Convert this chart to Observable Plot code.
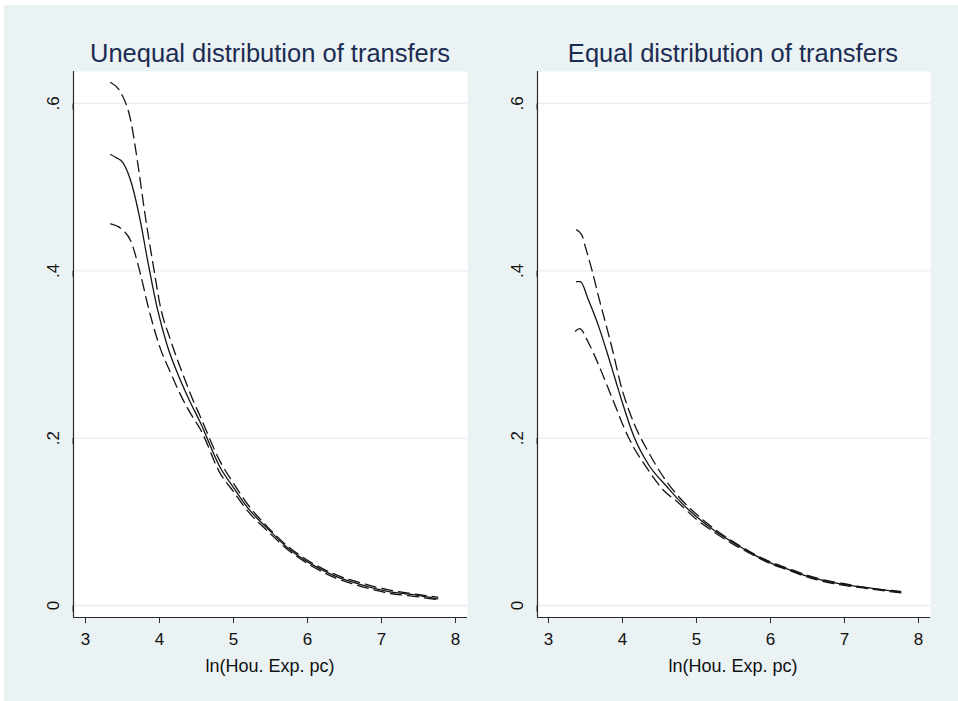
<!DOCTYPE html>
<html>
<head>
<meta charset="utf-8">
<script src="https://cdn.jsdelivr.net/npm/d3@7"></script>
<script src="https://cdn.jsdelivr.net/npm/@observablehq/plot@0.6"></script>
<style>
  html, body { margin: 0; padding: 0; background: #ffffff; }
  #page { position: relative; width: 958px; height: 701px; background: #ffffff; overflow: hidden;
          font-family: "Liberation Sans", Arial, Helvetica, sans-serif; }
  #bg { position: absolute; left: 4px; top: 5px; right: 0; bottom: 0; background: #eaf2f3; }
  .title { position: absolute; top: 41px; font-size: 25.5px; line-height: 1; color: #1c2c52; white-space: nowrap; transform: translateX(-50%); }
  .xlab { position: absolute; top: 657px; font-size: 18px; line-height: 1; color: #111; white-space: nowrap; transform: translateX(-50%); }
  .panel { position: absolute; top: 66px; }
</style>
</head>
<body>
<div id="page"><div id="bg"></div></div>
<script>
// ---- Text ----
const panelTitles = ["Unequal distribution of transfers", "Equal distribution of transfers"];
const xLabel = "ln(Hou. Exp. pc)";
const xTicks = [3, 4, 5, 6, 7, 8];
const xTickLabels = ["3", "4", "5", "6", "7", "8"];
const yTicks = [0, 0.2, 0.4, 0.6];
const yTickLabels = ["0", ".2", ".4", ".6"];

// ---- Unequal distribution: estimate and bands ----
const unequalEstX = [3.34, 3.42, 3.50, 3.61, 3.74, 3.84, 3.97, 4.10, 4.25, 4.40, 4.55, 4.82, 5.00, 5.19, 5.46, 5.73, 6.04, 6.35, 6.72, 7.08, 7.43, 7.76];
const unequalEst  = [0.539, 0.535, 0.530, 0.508, 0.460, 0.412, 0.355, 0.312, 0.276, 0.246, 0.219, 0.165, 0.141, 0.117, 0.092, 0.069, 0.050, 0.036, 0.025, 0.017, 0.013, 0.008];
const unequalUpX  = [3.34, 3.47, 3.61, 3.72, 3.81, 3.92, 4.01, 4.15, 4.30, 4.45, 4.55, 4.82, 5.00, 5.19, 5.46, 5.73, 6.04, 6.35, 6.72, 7.08, 7.43, 7.76];
const unequalUp   = [0.625, 0.614, 0.580, 0.520, 0.464, 0.404, 0.358, 0.317, 0.280, 0.246, 0.226, 0.172, 0.146, 0.121, 0.094, 0.071, 0.052, 0.038, 0.027, 0.019, 0.014, 0.010];
const unequalLoX  = [3.34, 3.50, 3.61, 3.74, 3.85, 4.00, 4.15, 4.30, 4.45, 4.55, 4.82, 5.00, 5.19, 5.46, 5.73, 6.04, 6.35, 6.72, 7.08, 7.43, 7.76];
const unequalLo   = [0.456, 0.449, 0.436, 0.397, 0.356, 0.310, 0.278, 0.249, 0.225, 0.211, 0.158, 0.136, 0.113, 0.089, 0.067, 0.048, 0.034, 0.023, 0.015, 0.011, 0.007];

// ---- Equal distribution: estimate and bands ----
const equalEstX = [3.38, 3.43, 3.54, 3.68, 3.80, 3.91, 4.00, 4.15, 4.34, 4.61, 4.74, 5.00, 5.25, 5.50, 5.75, 6.00, 6.25, 6.50, 6.75, 7.00, 7.25, 7.50, 7.76];
const equalEst  = [0.387, 0.387, 0.365, 0.333, 0.300, 0.268, 0.242, 0.203, 0.170, 0.141, 0.128, 0.106, 0.089, 0.075, 0.062, 0.051, 0.043, 0.035, 0.029, 0.025, 0.022, 0.019, 0.016];
const equalUpX  = [3.38, 3.45, 3.50, 3.59, 3.68, 3.80, 3.88, 3.97, 4.10, 4.22, 4.34, 4.55, 4.74, 5.00, 5.25, 5.50, 5.75, 6.00, 6.25, 6.50, 6.75, 7.00, 7.25, 7.50, 7.76];
const equalUp   = [0.449, 0.443, 0.428, 0.400, 0.368, 0.328, 0.300, 0.266, 0.230, 0.205, 0.185, 0.154, 0.132, 0.109, 0.091, 0.076, 0.063, 0.052, 0.044, 0.036, 0.030, 0.026, 0.022, 0.019, 0.017];
const equalLoX  = [3.365, 3.42, 3.54, 3.68, 3.80, 3.91, 4.00, 4.08, 4.34, 4.55, 4.74, 5.00, 5.25, 5.50, 5.75, 6.00, 6.25, 6.50, 6.75, 7.00, 7.25, 7.50, 7.76];
const equalLo   = [0.328, 0.331, 0.314, 0.287, 0.261, 0.237, 0.217, 0.201, 0.163, 0.138, 0.124, 0.103, 0.087, 0.073, 0.061, 0.050, 0.042, 0.034, 0.028, 0.024, 0.021, 0.018, 0.015];

const fontFamily = '"Liberation Sans", Arial, Helvetica, sans-serif';
const yDomain = [-0.01434, 0.6382];

function series(xs, ys) { return xs.map((x, i) => ({x, y: ys[i]})); }

function panel(cfg) {
  const lineOpts = {x: "x", y: "y", stroke: "#141414", strokeWidth: 1.3, curve: "monotone-x"};
  return Plot.plot({
    width: 479,
    height: 580,
    marginTop: 5,
    marginBottom: 29,
    marginLeft: cfg.marginLeft,
    marginRight: cfg.marginRight,
    x: {domain: cfg.xDomain},
    y: {domain: yDomain},
    style: {fontFamily, fontSize: "17px", background: "transparent", color: "#111", overflow: "visible"},
    marks: [
      Plot.frame({fill: "white", stroke: "none"}),
      Plot.gridY({ticks: yTicks, stroke: "#e6eef0", strokeOpacity: 1, strokeWidth: 1.3}),
      Plot.ruleX([cfg.xDomain[0]], {stroke: "#2b2b2b", strokeWidth: 1.2}),
      Plot.ruleY([yDomain[0]], {stroke: "#2b2b2b", strokeWidth: 1.2}),
      Plot.axisX({ticks: xTicks, tickSize: 6, tickPadding: 9, label: null, fontSize: 17, stroke: "#2b2b2b", fill: "#111",
                  tickFormat: d => xTickLabels[xTicks.indexOf(d)]}),
      Plot.axisY({ticks: yTicks, tickSize: 6, tickPadding: 14, label: null, rotate: -90, textAnchor: "middle",
                  tickFormat: d => yTickLabels[yTicks.indexOf(d)], fontSize: 17, stroke: "#2b2b2b", fill: "#111"}),
      Plot.line(series(cfg.loX, cfg.lo), {...lineOpts, strokeDasharray: "11,6"}),
      Plot.line(series(cfg.upX, cfg.up), {...lineOpts, strokeDasharray: "11,6"}),
      Plot.line(series(cfg.estX, cfg.est), lineOpts)
    ]
  });
}

const page = document.getElementById("page");
const panels = [
  {left: 0, marginLeft: 73, marginRight: 12, xDomain: [2.8378, 8.1622], center: 270,
   estX: unequalEstX, est: unequalEst, upX: unequalUpX, up: unequalUp, loX: unequalLoX, lo: unequalLo},
  {left: 479, marginLeft: 58, marginRight: 28, xDomain: [2.8514, 8.1622], center: 733,
   estX: equalEstX, est: equalEst, upX: equalUpX, up: equalUp, loX: equalLoX, lo: equalLo}
];

panels.forEach((cfg, i) => {
  const t = document.createElement("div");
  t.className = "title";
  t.style.left = cfg.center + "px";
  t.textContent = panelTitles[i];
  page.appendChild(t);

  const wrap = document.createElement("div");
  wrap.className = "panel";
  wrap.style.left = cfg.left + "px";
  wrap.appendChild(panel(cfg));
  page.appendChild(wrap);

  const xl = document.createElement("div");
  xl.className = "xlab";
  xl.style.left = cfg.center + "px";
  xl.textContent = xLabel;
  page.appendChild(xl);
});
</script>
</body>
</html>
